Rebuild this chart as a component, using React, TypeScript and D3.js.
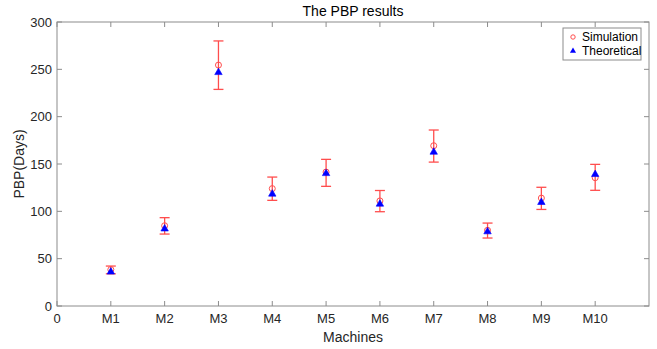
import React from 'react';
import * as d3 from 'd3';

const machines = ['M1', 'M2', 'M3', 'M4', 'M5', 'M6', 'M7', 'M8', 'M9', 'M10'];
const simulation = [38.5, 84.8, 254.5, 124, 141.5, 111, 169.3, 80, 114, 135.5];
const theoretical = [36, 81.5, 246.7, 118.3, 140, 107.7, 162.6, 78.5, 109.5, 139];
const errLow = [34, 76, 228.8, 111.6, 126.4, 99.6, 152, 71.8, 102, 122.2];
const errHigh = [42.2, 93.3, 280, 136.2, 154.9, 122, 185.9, 87.6, 125.4, 149.6];
const yTicks = [0, 50, 100, 150, 200, 250, 300];
const xTicks = [0, 1, 2, 3, 4, 5, 6, 7, 8, 9, 10];
const xTickLabels = ['0', ...machines];

const App = () => {
  const width = 657;
  const height = 349;
  const margin = { top: 22, right: 8, bottom: 43, left: 57 };
  const innerWidth = width - margin.left - margin.right;
  const innerHeight = height - margin.top - margin.bottom;

  const x = d3.scaleLinear().domain([0, 11]).range([0, innerWidth]);
  const y = d3.scaleLinear().domain([0, 300]).range([innerHeight, 0]);

  const axisColor = '#8c8c8c';
  const textColor = '#262626';
  const errColor = '#ff4d4d';
  const font = 'Arial, "Liberation Sans", sans-serif';
  const tri = d3.symbol().type(d3.symbolTriangle).size(24)();

  return (
    <svg width={width} height={height} style={{ position: 'absolute', left: 0, top: 0, background: '#fff' }} fontFamily={font}>
      <g transform={`translate(${margin.left},${margin.top})`}>
        {/* box */}
        <rect x={0} y={0} width={innerWidth} height={innerHeight} fill="none" stroke={axisColor} strokeWidth={1} />

        {/* y ticks */}
        {yTicks.map(t => (
          <g key={`y${t}`}>
            <line x1={0} x2={5} y1={y(t)} y2={y(t)} stroke={axisColor} />
            <line x1={innerWidth} x2={innerWidth - 5} y1={y(t)} y2={y(t)} stroke={axisColor} />
            <text x={-5} y={y(t)} textAnchor="end" dominantBaseline="central" fontSize={13} fill={textColor}>{t}</text>
          </g>
        ))}

        {/* x ticks */}
        {xTicks.map((t, i) => (
          <g key={`x${t}`}>
            <line x1={x(t)} x2={x(t)} y1={innerHeight} y2={innerHeight - 5} stroke={axisColor} />
            <line x1={x(t)} x2={x(t)} y1={0} y2={5} stroke={axisColor} />
            <text x={x(t)} y={innerHeight + 17} textAnchor="middle" fontSize={13} fill={textColor}>{xTickLabels[i]}</text>
          </g>
        ))}

        {/* error bars */}
        {machines.map((m, i) => {
          const cx = x(i + 1);
          return (
            <g key={`e${m}`} stroke={errColor} strokeWidth={1.3}>
              <line x1={cx} x2={cx} y1={y(errHigh[i])} y2={y(errLow[i])} />
              <line x1={cx - 5} x2={cx + 5} y1={y(errHigh[i])} y2={y(errHigh[i])} />
              <line x1={cx - 5} x2={cx + 5} y1={y(errLow[i])} y2={y(errLow[i])} />
            </g>
          );
        })}

        {/* simulation circles */}
        {simulation.map((v, i) => (
          <circle key={`s${i}`} cx={x(i + 1)} cy={y(v)} r={3} fill="none" stroke={errColor} strokeWidth={1} />
        ))}

        {/* theoretical triangles */}
        {theoretical.map((v, i) => (
          <path key={`t${i}`} d={tri} transform={`translate(${x(i + 1)},${y(v)})`} fill="#0000ff" stroke="#0000ff" strokeWidth={0.6} />
        ))}

        {/* legend */}
        <g transform={`translate(${innerWidth - 86},6)`}>
          <rect x={0} y={0} width={78} height={32} fill="#fff" stroke={axisColor} strokeWidth={1} />
          <circle cx={10} cy={9} r={2.2} fill="none" stroke={errColor} strokeWidth={1} />
          <text x={19} y={9} dominantBaseline="central" fontSize={12} fill="#000">Simulation</text>
          <path d={d3.symbol().type(d3.symbolTriangle).size(16)()} transform="translate(10,23)" fill="#0000ff" />
          <text x={19} y={23} dominantBaseline="central" fontSize={12} fill="#000">Theoretical</text>
        </g>

        {/* title & labels */}
        <text x={innerWidth / 2} y={-6} textAnchor="middle" fontSize={14} fill="#000">The PBP results</text>
        <text x={innerWidth / 2} y={innerHeight + 36} textAnchor="middle" fontSize={14} fill={textColor}>Machines</text>
        <text transform={`translate(${-33},${innerHeight / 2}) rotate(-90)`} textAnchor="middle" fontSize={14} fill={textColor}>PBP(Days)</text>
      </g>
    </svg>
  );
};

export default App;
